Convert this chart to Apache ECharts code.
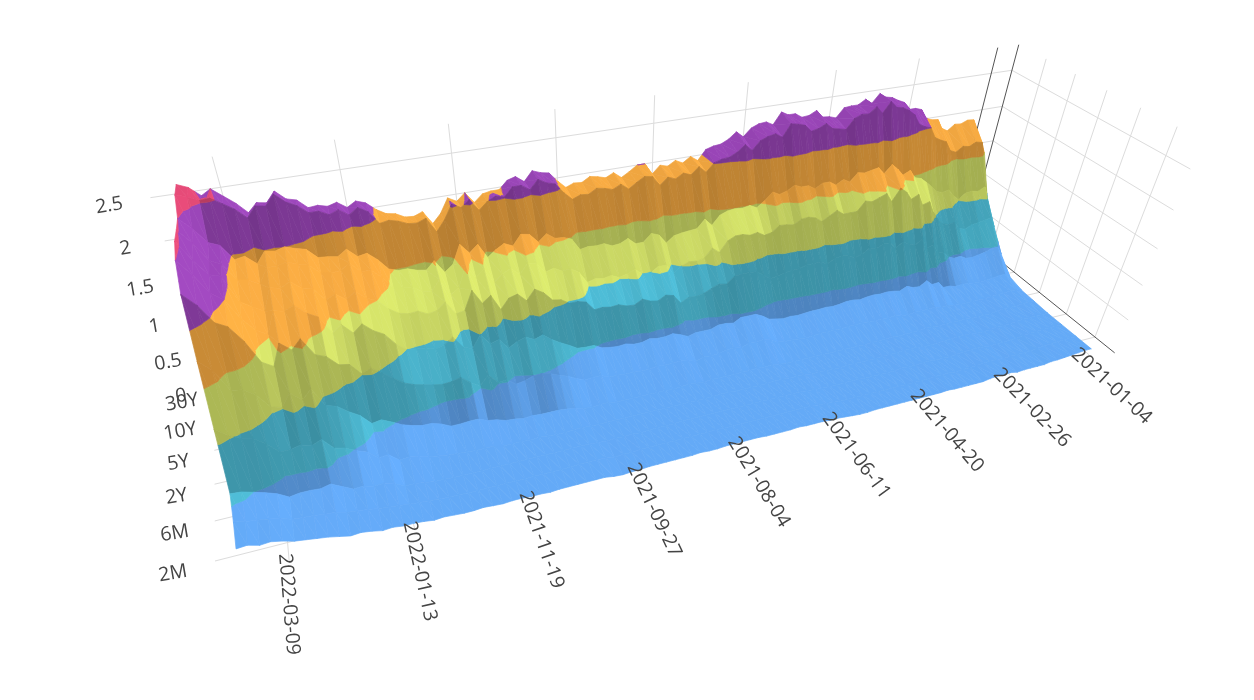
<!DOCTYPE html>
<html><head><meta charset="utf-8">
<style>html,body{margin:0;padding:0;background:#fff}#c{width:1254px;height:700px}</style>
<script src="https://cdn.jsdelivr.net/npm/echarts@6/dist/echarts.min.js"></script>
</head><body><div id="c"></div>
<script>
const tenors=['1M','2M','3M','6M','1Y','2Y','3Y','5Y','7Y','10Y','20Y','30Y'];
const dates=['2021-01-04','2021-01-08','2021-01-13','2021-01-19','2021-01-22','2021-01-27','2021-02-01','2021-02-04','2021-02-09','2021-02-12','2021-02-18','2021-02-23','2021-02-26',
'2021-03-03','2021-03-08','2021-03-11','2021-03-16','2021-03-19','2021-03-24','2021-03-29','2021-04-01','2021-04-07','2021-04-12','2021-04-15','2021-04-20',
'2021-04-23','2021-04-28','2021-05-03','2021-05-06','2021-05-11','2021-05-14','2021-05-19','2021-05-24','2021-05-28','2021-06-03','2021-06-08','2021-06-11',
'2021-06-16','2021-06-21','2021-06-24','2021-06-29','2021-07-02','2021-07-08','2021-07-13','2021-07-16','2021-07-21','2021-07-26','2021-07-29','2021-08-04',
'2021-08-09','2021-08-12','2021-08-17','2021-08-20','2021-08-25','2021-08-30','2021-09-02','2021-09-08','2021-09-13','2021-09-16','2021-09-21','2021-09-27',
'2021-09-30','2021-10-05','2021-10-08','2021-10-14','2021-10-19','2021-10-22','2021-10-27','2021-11-01','2021-11-04','2021-11-09','2021-11-15','2021-11-19',
'2021-11-24','2021-11-30','2021-12-03','2021-12-08','2021-12-13','2021-12-16','2021-12-21','2021-12-27','2021-12-30','2022-01-04','2022-01-07','2022-01-13',
'2022-01-19','2022-01-24','2022-01-27','2022-02-01','2022-02-04','2022-02-09','2022-02-14','2022-02-17','2022-02-23','2022-02-28','2022-03-03','2022-03-09',
'2022-03-14','2022-03-17','2022-03-22','2022-03-25'];
const dateTicks=['2021-01-04','2021-02-26','2021-04-20','2021-06-11','2021-08-04','2021-09-27','2021-11-19','2022-01-13','2022-03-09'];
const tenorTicks=['2M','6M','2Y','5Y','10Y','30Y'];
const valueTicks=[0,0.5,1,1.5,2,2.5];

const y1M=[.09,.09,.08,.07,.06,.05,.05,.03,.03,.03,.03,.02,.04,
.03,.04,.03,.01,.01,.01,.01,.01,.02,.01,.01,.01,
.01,.01,.01,.01,.01,.01,.01,.00,.00,.01,.02,.03,
.03,.04,.04,.04,.05,.04,.04,.04,.04,.05,.05,.05,
.05,.05,.04,.04,.05,.04,.04,.04,.04,.04,.04,.03,
.03,.02,.03,.05,.05,.05,.05,.05,.05,.04,.05,.05,
.06,.06,.05,.06,.07,.06,.06,.07,.08,.07,.09,.10,
.10,.12,.11,.14,.16,.15,.18,.21,.23,.25,.27,.31,
.34,.33,.37,.36];
const y2M=[.09,.09,.09,.08,.08,.07,.06,.04,.04,.04,.04,.03,.04,
.04,.04,.03,.02,.02,.01,.02,.02,.02,.01,.01,.01,
.01,.01,.01,.01,.01,.01,.01,.01,.01,.01,.02,.03,
.04,.05,.05,.05,.05,.05,.05,.05,.05,.05,.05,.05,
.05,.06,.05,.05,.05,.05,.05,.05,.05,.05,.05,.04,
.04,.03,.05,.06,.06,.06,.05,.05,.05,.05,.05,.05,
.05,.05,.05,.05,.05,.05,.06,.06,.07,.08,.09,.10,
.12,.13,.15,.17,.19,.20,.24,.25,.27,.28,.29,.34,
.37,.39,.41,.44];
const y3M=[.09,.09,.09,.09,.08,.08,.07,.05,.05,.04,.04,.03,.04,
.05,.05,.04,.03,.02,.02,.02,.03,.03,.02,.02,.03,
.01,.01,.01,.01,.01,.02,.02,.02,.01,.02,.02,.03,
.04,.05,.05,.05,.05,.05,.05,.05,.05,.05,.05,.05,
.05,.05,.05,.05,.05,.04,.04,.04,.04,.03,.04,.03,
.04,.03,.04,.05,.05,.05,.05,.05,.05,.05,.05,.05,
.05,.05,.05,.05,.05,.05,.05,.06,.06,.08,.10,.10,
.17,.21,.20,.24,.23,.30,.37,.34,.35,.35,.33,.41,
.46,.50,.54,.55];
const y6M=[.09,.09,.10,.09,.09,.08,.07,.06,.06,.05,.04,.04,.06,
.06,.06,.05,.05,.04,.03,.03,.05,.05,.05,.04,.04,
.04,.03,.03,.03,.03,.03,.02,.02,.03,.03,.03,.05,
.05,.05,.06,.06,.05,.05,.05,.05,.05,.06,.06,.05,
.05,.05,.05,.05,.05,.05,.05,.05,.05,.05,.05,.05,
.05,.05,.05,.06,.06,.05,.05,.06,.07,.06,.07,.07,
.07,.10,.10,.10,.11,.12,.13,.15,.17,.21,.23,.22,
.33,.32,.43,.48,.55,.58,.73,.68,.72,.69,.69,.83,
.93,.96,1.03,1.14];
const y1Y=[.10,.11,.11,.10,.10,.10,.09,.07,.07,.07,.06,.08,.07,
.08,.08,.07,.08,.08,.07,.07,.06,.06,.07,.06,.06,
.06,.05,.05,.05,.05,.05,.05,.05,.05,.05,.05,.05,
.05,.06,.08,.07,.08,.07,.07,.07,.07,.07,.07,.06,
.07,.08,.07,.06,.07,.07,.07,.07,.07,.07,.07,.09,
.09,.08,.09,.12,.14,.15,.15,.15,.16,.15,.17,.18,
.22,.24,.29,.29,.28,.28,.34,.38,.38,.41,.45,.52,
.58,.56,.70,.78,.88,.92,1.16,1.05,1.17,1.01,1.05,1.23,
1.32,1.34,1.61,1.74];
const y2Y=[.11,.14,.14,.13,.13,.12,.11,.11,.11,.11,.11,.12,.14,
.13,.16,.15,.15,.15,.14,.14,.17,.16,.17,.16,.16,
.17,.17,.17,.16,.16,.16,.16,.15,.14,.15,.16,.16,
.18,.24,.27,.25,.26,.22,.24,.24,.21,.20,.21,.17,
.21,.23,.22,.22,.23,.21,.21,.22,.22,.23,.23,.28,
.28,.27,.32,.38,.42,.47,.50,.49,.45,.43,.52,.51,
.64,.52,.59,.69,.66,.65,.67,.70,.73,.78,.87,.97,
1.06,1.01,1.16,1.18,1.31,1.36,1.58,1.47,1.58,1.32,1.40,1.68,
1.87,1.94,2.16,2.30];
const y3Y=[.16,.22,.22,.20,.19,.18,.19,.21,.21,.20,.23,.23,.33,
.32,.40,.33,.34,.38,.33,.35,.36,.35,.36,.35,.33,
.35,.35,.33,.32,.33,.32,.32,.31,.30,.31,.30,.32,
.34,.41,.46,.46,.46,.40,.42,.42,.38,.38,.38,.35,
.40,.44,.42,.42,.44,.41,.41,.44,.43,.44,.46,.52,
.52,.53,.60,.66,.73,.82,.78,.84,.80,.74,.88,.85,
1.00,.83,.88,1.04,.96,.93,.97,.98,1.00,1.10,1.25,1.32,
1.43,1.34,1.47,1.39,1.61,1.68,1.80,1.75,1.78,1.52,1.60,1.75,
2.00,2.10,2.32,2.50];
const y5Y=[.36,.49,.49,.45,.43,.41,.42,.47,.46,.50,.59,.62,.75,
.72,.88,.80,.84,.89,.82,.92,.92,.87,.90,.83,.80,
.85,.87,.85,.79,.84,.84,.84,.81,.80,.79,.76,.75,
.82,.89,.90,.90,.89,.80,.82,.78,.73,.71,.72,.66,
.79,.82,.76,.78,.83,.77,.78,.82,.81,.83,.82,.95,
.98,.98,1.05,1.07,1.19,1.26,1.13,1.24,1.21,1.08,1.29,1.21,
1.40,1.16,1.14,1.32,1.23,1.21,1.27,1.26,1.29,1.37,1.50,1.55,
1.66,1.58,1.67,1.62,1.78,1.81,1.91,1.85,1.88,1.62,1.70,1.78,
2.10,2.14,2.32,2.55];
const y7Y=[.64,.80,.78,.76,.75,.70,.73,.84,.83,.86,.95,1.07,1.24,
1.21,1.38,1.33,1.45,1.52,1.35,1.48,1.44,1.40,1.43,1.30,1.30,
1.30,1.37,1.31,1.25,1.32,1.35,1.34,1.28,1.30,1.31,1.23,1.21,
1.27,1.25,1.28,1.28,1.23,1.09,1.17,1.05,1.03,1.04,1.00,.92,
1.05,1.06,.99,.99,1.08,1.04,1.01,1.06,1.04,1.06,1.03,1.19,
1.26,1.25,1.31,1.28,1.41,1.44,1.31,1.41,1.36,1.27,1.47,1.38,
1.55,1.29,1.22,1.44,1.31,1.33,1.41,1.42,1.44,1.60,1.71,1.71,
1.84,1.77,1.76,1.78,1.90,1.93,1.98,1.95,1.95,1.78,1.85,1.87,
2.08,2.14,2.36,2.52];
const y10Y=[.93,1.13,1.08,1.10,1.09,1.01,1.09,1.19,1.17,1.20,1.29,1.37,1.44,
1.47,1.59,1.54,1.64,1.72,1.61,1.71,1.69,1.67,1.69,1.58,1.63,
1.57,1.63,1.63,1.57,1.63,1.63,1.67,1.61,1.58,1.63,1.53,1.45,
1.50,1.48,1.49,1.48,1.44,1.32,1.42,1.31,1.30,1.29,1.27,1.19,
1.32,1.36,1.26,1.26,1.35,1.30,1.29,1.34,1.33,1.34,1.32,1.48,
1.52,1.53,1.61,1.52,1.64,1.66,1.53,1.58,1.52,1.44,1.63,1.54,
1.67,1.43,1.35,1.52,1.42,1.44,1.48,1.48,1.52,1.66,1.76,1.74,
1.85,1.78,1.80,1.81,1.93,1.96,2.00,1.97,1.99,1.86,1.97,1.95,
2.14,2.19,2.37,2.50];
const y20Y=[1.46,1.66,1.68,1.63,1.65,1.58,1.62,1.76,1.80,1.85,2.00,2.03,2.08,
2.22,2.29,2.34,2.36,2.45,2.31,2.41,2.33,2.34,2.30,2.17,2.19,
2.21,2.29,2.24,2.22,2.31,2.34,2.36,2.20,2.26,2.24,2.20,2.09,
2.18,2.10,2.05,2.04,2.01,1.90,1.99,1.90,1.94,1.88,1.92,1.83,
1.96,1.98,1.92,1.85,1.93,1.88,1.91,1.93,1.87,1.88,1.84,1.94,
2.07,2.10,2.16,2.05,2.12,2.12,2.01,2.04,1.99,1.90,2.05,1.97,
2.03,1.85,1.72,1.91,1.87,1.88,1.93,1.96,1.94,2.10,2.17,2.10,
2.18,2.14,2.20,2.20,2.30,2.36,2.47,2.35,2.37,2.25,2.37,2.45,
2.53,2.52,2.58,2.62];
const y30Y=[1.66,1.87,1.88,1.84,1.85,1.77,1.82,1.96,1.97,2.01,2.14,2.17,2.17,
2.28,2.32,2.37,2.39,2.45,2.33,2.40,2.34,2.34,2.33,2.21,2.24,
2.25,2.35,2.30,2.29,2.35,2.35,2.40,2.25,2.30,2.29,2.25,2.15,
2.23,2.15,2.10,2.09,2.06,1.93,2.00,1.93,1.98,1.92,1.95,1.85,
2.00,2.00,1.93,1.87,1.95,1.90,1.93,1.95,1.89,1.90,1.86,1.96,
2.08,2.10,2.14,2.02,2.10,2.07,1.97,1.97,1.95,1.86,2.00,1.91,
1.97,1.79,1.68,1.85,1.81,1.82,1.88,1.90,1.97,2.07,2.11,2.05,
2.13,2.10,2.13,2.12,2.23,2.26,2.37,2.25,2.27,2.17,2.30,2.40,
2.50,2.44,2.55,2.60];
const rows=[y1M,y2M,y3M,y6M,y1Y,y2Y,y3Y,y5Y,y7Y,y10Y,y20Y,y30Y];

const bands=[[-1,.5,[100,170,247]],[.5,1,[78,188,214]],[1,1.5,[212,226,105]],[1.5,2,[246,170,66]],[2,2.5,[155,70,185]],[2.5,9,[226,74,118]]];

// Camera: x 0..1 = box from latest to earliest date, t 0..1 = 2M..30Y, z in value units
const xFirst=.9686,xLast=.0253,tFirst=-.1,tLast=1,zBoxTop=2.84;
function project(x,t,z){
  const s=z/2.5;
  const w=1+.3364*x+.2238*t-.17*s;
  return [(215+1248.3*x+46.9*t-103.4*s)/w,(561-110.6*x-83.7*t-269*s)/w];
}
function clipBand(poly,lo,hi){
  const cut=(pts,keep,v)=>{
    const out=[];
    for(let i=0;i<pts.length;i++){
      const a=pts[i],b=pts[(i+1)%pts.length],ka=keep(a[2]),kb=keep(b[2]);
      if(ka)out.push(a);
      if(ka!==kb){const f=(v-a[2])/(b[2]-a[2]);out.push([a[0]+(b[0]-a[0])*f,a[1]+(b[1]-a[1])*f,v]);}
    }
    return out;
  };
  let r=cut(poly,z=>z>=lo,lo);
  if(r.length<3)return r;
  return cut(r,z=>z<=hi,hi);
}
function smooth(a,b,v){const f=Math.min(1,Math.max(0,(v-a)/(b-a)));return f*f*(3-2*f);}
function toBox(api,sys,k,i){
  const p=api.coord([k,i]);
  const nx=(p[0]-sys.x)/sys.width,ny=(sys.y+sys.height-p[1])/sys.height;
  return [xFirst+(xLast-xFirst)*nx,tFirst+(tLast-tFirst)*ny];
}
function renderCell(params,api){
  const k=api.value(0),i=api.value(1),sys=params.coordSys;
  const a=toBox(api,sys,k,i),b=toBox(api,sys,k+1,i),c=toBox(api,sys,k+1,i+1),d=toBox(api,sys,k,i+1);
  const z=(kk,ii)=>rows[ii][kk];
  const A=[a[0],a[1],z(k,i)],B=[b[0],b[1],z(k+1,i)],C=[c[0],c[1],z(k+1,i+1)],D=[d[0],d[1],z(k,i+1)];
  const slope=((C[2]-B[2])+(D[2]-A[2]))/2;
  const along=((B[2]-A[2])+(C[2]-D[2]))/2;
  const shade=(1-.22*smooth(.22,.40,Math.abs(slope)))*(1+Math.max(-.05,Math.min(.05,along*.35)));
  const children=[];
  [[A,B,C],[A,C,D]].forEach(tri=>{
    bands.forEach(bd=>{
      const poly=clipBand(tri,bd[0],bd[1]);
      if(poly.length<3)return;
      const col='rgb('+bd[2].map(v=>Math.min(255,Math.round(v*shade))).join(',')+')';
      children.push({type:'polygon',silent:true,shape:{points:poly.map(q=>project(q[0],q[1],q[2]))},style:{fill:col,stroke:col,lineWidth:.7,lineJoin:'round'}});
    });
  });
  return {type:'group',children};
}
const gridColor='#dcdcdc',axisColor='#555',textColor='#444',font='19.5px "Open Sans"';
function line(p,q,color){return {type:'line',silent:true,shape:{x1:p[0],y1:p[1],x2:q[0],y2:q[1]},style:{stroke:color,lineWidth:1,fill:null}};}
function label(text,x,y,rot,align){return {type:'text',silent:true,x:x,y:y,rotation:rot,style:{text:text,font:font,fill:textColor,align:align||'center',verticalAlign:'middle'}};}
const tOfTenor=n=>(tenors.indexOf(n)-1)*.1;
const xOfDate=d=>xFirst+(xLast-xFirst)*dates.indexOf(d)/(dates.length-1);
function renderScene(){
  const kids=[];
  valueTicks.forEach(v=>{
    if(v>0)kids.push(line(project(0,1,v),project(1,1,v),gridColor));
    if(v>0)kids.push(line(project(1,1,v),project(1,-.13,v),gridColor));
  });
  tenorTicks.forEach(n=>{
    const t=tOfTenor(n);
    kids.push(line(project(0,t,0),project(1,t,0),gridColor));
    if(t<1)kids.push(line(project(1,t,0),project(1,t,zBoxTop),gridColor));
  });
  dateTicks.forEach((d,i)=>{
    const x=xOfDate(d);
    kids.push(line(project(x,1,0),project(x,-.1,0),gridColor));
    kids.push(line(project(x,1,0),project(x,1,zBoxTop),i===0?axisColor:gridColor));
  });
  kids.push(line(project(1,1,0),project(1,-.13,0),axisColor));
  kids.push(line(project(1,1,0),project(1,1,zBoxTop),axisColor));
  return {type:'group',children:kids};
}
function renderLabels(){
  const kids=[];
  valueTicks.forEach(v=>{const p=project(0,1,v);kids.push(label(String(v),p[0]-33-3.2*v,p[1]+6+.8*v,.17));});
  tenorTicks.forEach(n=>{const t=tOfTenor(n),p=project(0,t,0);kids.push(label(n,p[0]-42+10*t,p[1]+12.5,.17));});
  dateTicks.forEach(d=>{
    const x=xOfDate(d),p=project(x,-.1,0),q=project(x,-.6,0);
    const ang=Math.atan2(q[1]-p[1],q[0]-p[0])+.06*x;
    kids.push(label(d,p[0]-4-11*x,p[1]-10+7*x,-ang,'left'));
  });
  return {type:'group',children:kids};
}
const cells=[];
for(let i=tenors.length-2;i>=0;i--)for(let k=0;k<dates.length-1;k++)cells.push([k,i]);

const chart=echarts.init(document.getElementById('c'),null,{renderer:'canvas',width:1254,height:700});
chart.setOption({
  animation:false,
  backgroundColor:'#fff',
  grid:{left:100,right:100,top:50,bottom:50},
  xAxis:{type:'category',data:dates,boundaryGap:false,show:false},
  yAxis:{type:'category',data:tenors,boundaryGap:false,show:false},
  series:[
    {type:'custom',name:'scene',z:1,silent:true,data:[[0,0]],renderItem:renderScene},
    {type:'custom',name:'yield surface',z:2,silent:true,data:cells,encode:{x:0,y:1},renderItem:renderCell},
    {type:'custom',name:'labels',z:3,silent:true,data:[[0,0]],renderItem:renderLabels}
  ]
});
</script></body></html>
